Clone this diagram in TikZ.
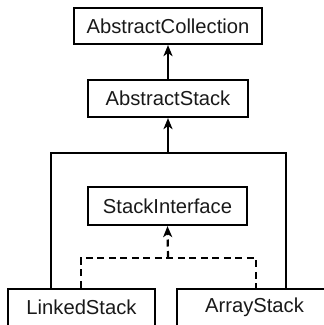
\documentclass[tikz,border=0pt]{standalone}
\usepackage{fontspec}
\setmainfont{Liberation Sans}
\usetikzlibrary{arrows.meta}
\begin{document}
\begin{tikzpicture}[x=1pt,y=-1pt,
  cls/.style={draw, line width=2.2pt, inner sep=0pt, font=\fontsize{20.2}{23}\selectfont, text=black!90},
  conn/.style={line width=2.2pt},
  inh/.style={conn, -{Stealth[length=11pt,width=9pt,inset=3pt]}},
  impl/.style={conn, dash pattern=on 7pt off 4.5pt}]
\useasboundingbox (0,0) rectangle (324,325);
\clip (0,0) rectangle (324,325);
\node[cls, minimum width=188pt, minimum height=36pt] (AC) at (168,26) {AbstractCollection};
\node[cls, minimum width=160pt, minimum height=37pt] (AS) at (168,98.5) {AbstractStack};
\node[cls, minimum width=159pt, minimum height=38pt] (SI) at (167.5,206) {StackInterface};
\node[cls, minimum width=147pt, minimum height=37.5pt] (LS) at (81.5,307.5) {LinkedStack};
\node[cls, minimum width=155pt, minimum height=37.5pt] (ArS) at (254.5,307.5) {ArrayStack};
\coordinate (jl) at (51,153);
\coordinate (jr) at (286,153);
\coordinate (jm) at (168,153);
\coordinate (dl) at (81,258);
\coordinate (dr) at (256,258);
\coordinate (dm) at (168,258);
\draw[inh] (AS.north) -- (AC.south);
\draw[conn] (LS.north -| jl) -- (jl) -- (jr) -- (ArS.north -| jr);
\draw[inh] (jm) -- (AS.south);
\draw[impl] (LS.north -| dl) -- (dl) -- (dr) -- (ArS.north -| dr);
\draw[impl, -{Stealth[length=11pt,width=9pt,inset=3pt]}] (dm) -- (SI.south);
\end{tikzpicture}
\end{document}
